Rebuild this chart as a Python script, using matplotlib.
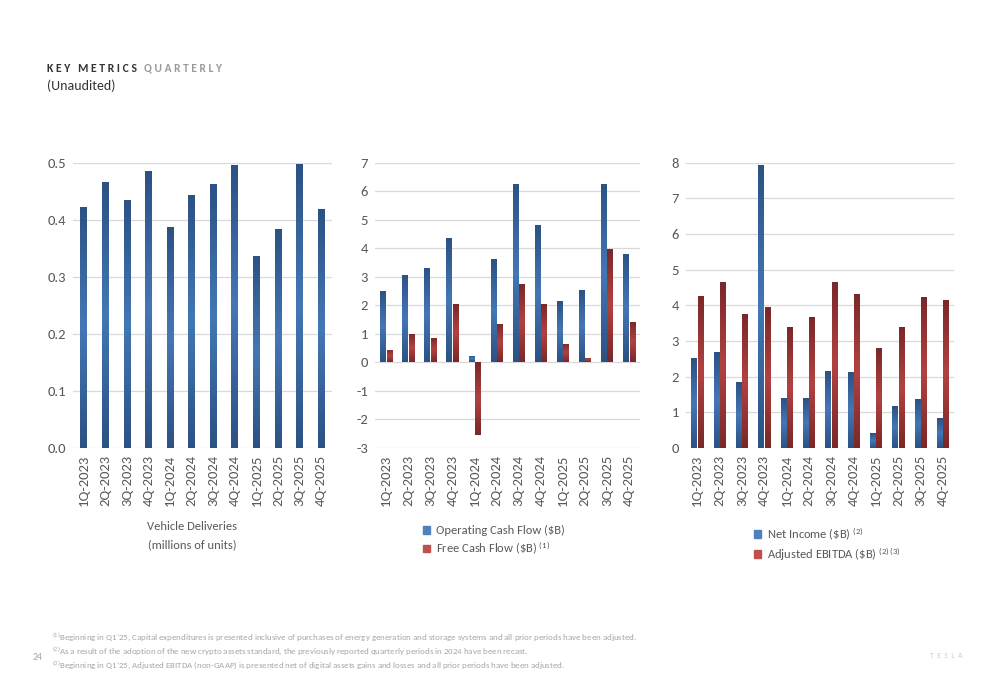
import numpy as np
import matplotlib
matplotlib.use("Agg")
import matplotlib.pyplot as plt
from matplotlib.colors import LinearSegmentedColormap
from matplotlib.patches import Patch

plt.rcParams['font.family'] = ['Carlito', 'DejaVu Sans']
plt.rcParams['mathtext.fontset'] = 'custom'
plt.rcParams['mathtext.rm'] = 'Carlito'
plt.rcParams['mathtext.default'] = 'rm'

quarters = ["1Q-2023", "2Q-2023", "3Q-2023", "4Q-2023",
            "1Q-2024", "2Q-2024", "3Q-2024", "4Q-2024",
            "1Q-2025", "2Q-2025", "3Q-2025", "4Q-2025"]
deliveries = [0.423, 0.466, 0.435, 0.485, 0.387, 0.444, 0.463, 0.496, 0.337, 0.384, 0.497, 0.418]
op_cash_flow = [2.51, 3.06, 3.31, 4.37, 0.24, 3.61, 6.26, 4.81, 2.16, 2.54, 6.24, 3.81]
free_cash_flow = [0.44, 1.00, 0.85, 2.06, -2.53, 1.34, 2.74, 2.03, 0.66, 0.15, 3.99, 1.42]
net_income = [2.51, 2.70, 1.85, 7.93, 1.39, 1.40, 2.17, 2.13, 0.41, 1.17, 1.37, 0.84]
adj_ebitda = [4.27, 4.65, 3.76, 3.95, 3.38, 3.67, 4.66, 4.33, 2.81, 3.40, 4.22, 4.16]

footnotes = [
    "Beginning in Q1\u201925, Capital expenditures is presented inclusive of purchases of energy generation and storage systems and all prior periods have been adjusted.",
    "As a result of the adoption of the new crypto assets standard, the previously reported quarterly periods in 2024 have been recast.",
    "Beginning in Q1\u201925, Adjusted EBITDA (non-GAAP) is presented net of digital assets gains and losses and all prior periods have been adjusted.",
]

BLUE = "#4f81bd"
RED = "#c0504d"
blue_grad = LinearSegmentedColormap.from_list("b", ["#2c5283", "#4377b6", "#2c5283"])
red_grad = LinearSegmentedColormap.from_list("r", ["#7a2828", "#b34242", "#7a2828"])
GREY = "#595959"

x = np.arange(len(quarters))


def shade(ax, bars, cmap):
    # fake the cylinder look: vertical gradient clipped to each bar
    grad = np.linspace(0, 1, 64).reshape(-1, 1)
    for b in bars:
        x0, y0 = b.get_x(), b.get_y()
        w, h = b.get_width(), b.get_height()
        im = ax.imshow(grad, extent=[x0, x0 + w, y0, y0 + h], aspect='auto',
                       cmap=cmap, zorder=3, origin='lower')
        im.set_clip_path(b)


def style(ax, ylim, ticks, fmt):
    ax.set_xlim(-0.5, len(quarters) - 0.5)
    ax.set_ylim(*ylim)
    ax.set_yticks(ticks)
    ax.set_yticklabels([fmt.format(t) for t in ticks])
    ax.set_xticks(x)
    ax.set_xticklabels(quarters, rotation=90)
    ax.grid(axis='y', color="#d9d9d9", linewidth=0.9, zorder=0)
    ax.set_axisbelow(True)
    for s in ax.spines.values():
        s.set_visible(False)
    ax.tick_params(axis='both', length=0, colors=GREY, labelsize=10.5)
    ax.tick_params(axis='y', pad=5)
    ax.tick_params(axis='x', pad=5)


def legend(ax, labels, left):
    ax.legend([Patch(color=BLUE), Patch(color=RED)], labels,
              loc='upper left', bbox_to_anchor=(left, 1 - 519 / 685), bbox_transform=fig.transFigure,
              frameon=False, handlelength=0.55, handleheight=0.55, handletextpad=0.5,
              labelspacing=0.28, fontsize=9, labelcolor=GREY, borderpad=0)


fig = plt.figure(figsize=(10, 6.85), dpi=100)
bottom, height = 0.346, 0.4165

# vehicle deliveries
ax1 = fig.add_axes([0.073, bottom, 0.259, height])
bars = ax1.bar(x, deliveries, 0.32, color=BLUE, zorder=2)
shade(ax1, bars, blue_grad)
style(ax1, (0, 0.5), np.arange(0, 0.51, 0.1), "{:.1f}")
fig.text(0.192, 1 - 527 / 685, "Vehicle Deliveries", ha='center', va='center', color=GREY, fontsize=9)
fig.text(0.192, 1 - 545 / 685, "(millions of units)", ha='center', va='center', color=GREY, fontsize=9)

# cash flow
ax2 = fig.add_axes([0.375, bottom, 0.265, height])
b1 = ax2.bar(x - 0.145, op_cash_flow, 0.24, color=BLUE, zorder=2)
b2 = ax2.bar(x + 0.145, free_cash_flow, 0.24, color=RED, zorder=2)
shade(ax2, b1, blue_grad)
shade(ax2, b2, red_grad)
style(ax2, (-3, 7), np.arange(-3, 8), "{:.0f}")
legend(ax2, ["Operating Cash Flow ($B)", r"Free Cash Flow (\$B) $^{(1)}$"], 0.417)

# net income / EBITDA
ax3 = fig.add_axes([0.686, bottom, 0.268, height])
b1 = ax3.bar(x - 0.145, net_income, 0.24, color=BLUE, zorder=2)
b2 = ax3.bar(x + 0.145, adj_ebitda, 0.24, color=RED, zorder=2)
shade(ax3, b1, blue_grad)
shade(ax3, b2, red_grad)
style(ax3, (0, 8), np.arange(0, 9), "{:.0f}")
legend(ax3, [r"Net Income (\$B) $^{(2)}$", r"Adjusted EBITDA (\$B) $^{(2)\,(3)}$"], 0.748)

# header
fig.text(0.047, 1 - 68 / 685, "K E Y   M E T R I C S", fontsize=8.5, fontweight='bold',
         color="#333333", va='center')
fig.text(0.144, 1 - 68 / 685, "Q U A R T E R L Y", fontsize=8.2, fontweight='bold',
         color="#9a9a9a", va='center')
fig.text(0.047, 1 - 86 / 685, "(Unaudited)", fontsize=10, color="#333333", va='center')

# footnotes
for i, note in enumerate(footnotes):
    fig.text(0.052, 1 - (637 + 14 * i) / 685, "$^{(%d)}$" % (i + 1) + note,
             fontsize=6.4, color="#a6a6a6", va='center')
fig.text(0.033, 1 - 657 / 685, "24", fontsize=7, color="#a6a6a6", va='center')
fig.text(0.93, 1 - 655 / 685, "T  E  S  L  A", fontsize=5.5, color="#cccccc", va='center')

fig.savefig("out.png", dpi=100)
